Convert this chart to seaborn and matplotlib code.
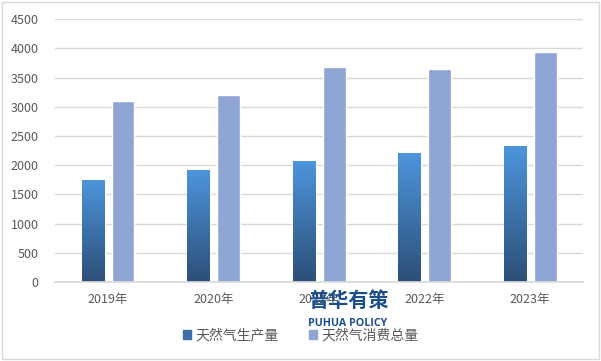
import numpy as np
import matplotlib.pyplot as plt
import matplotlib.patches as mpatches
from matplotlib.colors import LinearSegmentedColormap
import seaborn as sns
import pandas as pd

years = ["2019年", "2020年", "2021年", "2022年", "2023年"]
production = [1753, 1925, 2076, 2201, 2324]
consumption = [3100, 3200, 3680, 3646, 3945]
series = ["天然气生产量", "天然气消费总量"]

df = pd.DataFrame({
    "year": years * 2,
    "value": production + consumption,
    "series": [series[0]] * 5 + [series[1]] * 5,
})

sns.set_theme(style="white")
plt.rcParams["font.family"] = ["Noto Sans CJK SC", "DejaVu Sans"]

fig = plt.figure(figsize=(6.01, 3.61), dpi=100)
ax = fig.add_axes([0.092, 0.219, 0.878, 0.728])

g = sns.barplot(data=df, x="year", y="value", hue="series", ax=ax,
                palette=["#3b6fa8", "#8fa5d4"], width=0.566, gap=0.233,
                saturation=1, legend=False)

# gradient fill for production bars
cmap = LinearSegmentedColormap.from_list("grad", ["#2c4f77", "#4d95dd"])
grad = np.linspace(0, 1, 256).reshape(-1, 1)
for bar in ax.containers[0]:
    x0, y0 = bar.get_x(), bar.get_y()
    w, h = bar.get_width(), bar.get_height()
    im = ax.imshow(grad, cmap=cmap, origin="lower", aspect="auto",
                   extent=[x0, x0 + w, y0, y0 + h], zorder=bar.get_zorder() + 0.1)
    im.set_clip_path(bar)

ax.set_xlim(-0.5, 4.5)
ax.set_ylim(0, 4500)
ax.set_yticks(range(0, 4501, 500))
ax.yaxis.grid(True, color="#d9d9d9", linewidth=1)
ax.set_axisbelow(True)
for s in ["top", "right", "left"]:
    ax.spines[s].set_visible(False)
ax.spines["bottom"].set_color("#d9d9d9")
ax.tick_params(axis="both", length=0, labelsize=9, colors="#595959", pad=8)
ax.tick_params(axis="y", pad=12)
ax.set_xlabel("")
ax.set_ylabel("")

handles = [mpatches.Patch(color="#3b6fa8"), mpatches.Patch(color="#8fa5d4")]
fig.legend(handles, series, loc="center", bbox_to_anchor=(0.5, 0.07), ncol=2,
           frameon=False, fontsize=10, handlelength=0.6, handleheight=0.6,
           handletextpad=0.3, columnspacing=2.2, labelcolor="#595959")

# watermark
fig.text(0.579, 0.169, "普华有策", ha="center", va="center", fontsize=14.5,
         fontweight="bold", color="#1b4f8c", zorder=5)
fig.text(0.579, 0.105, "PUHUA POLICY", ha="center", va="center", fontsize=7.7,
         fontweight="bold", color="#1b4f8c", family=["Open Sans", "DejaVu Sans"], zorder=5)

fig.patches.append(mpatches.Rectangle((0.003, 0.005), 0.993, 0.99, transform=fig.transFigure,
                                      fill=False, edgecolor="#d9d9d9", linewidth=1))

fig.savefig("out.png", dpi=100)
